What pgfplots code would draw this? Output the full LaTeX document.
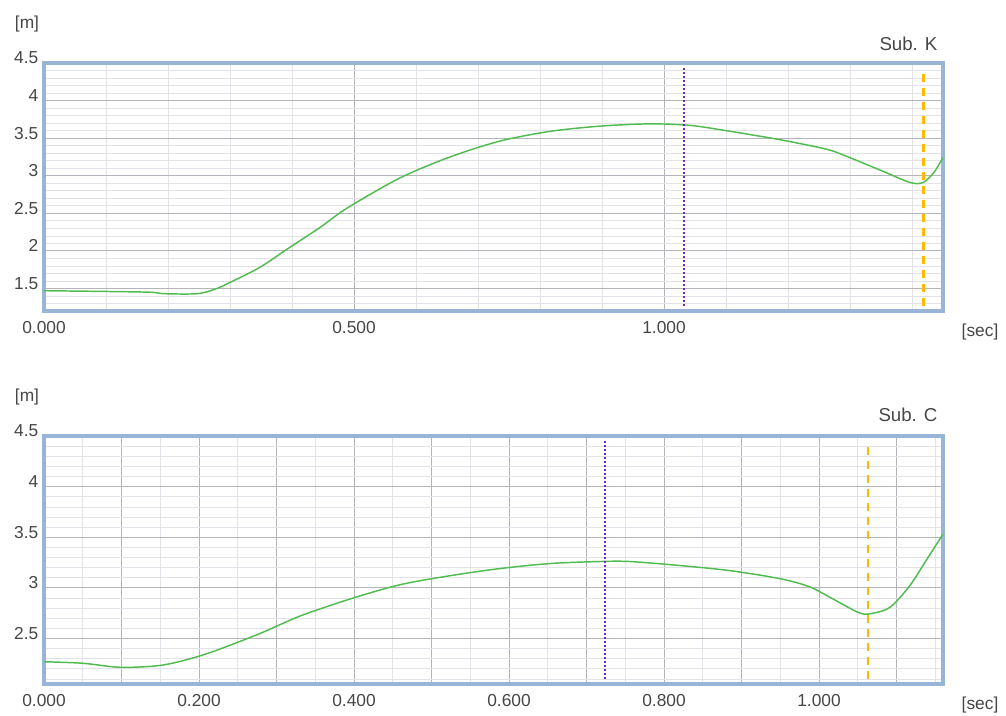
\documentclass[border=0pt]{standalone}
\usepackage{fontspec}
\setmainfont{Liberation Sans}
\usepackage{pgfplots}
\pgfplotsset{compat=1.18}

\definecolor{frameblue}{RGB}{152,180,215}
\definecolor{curvegreen}{RGB}{80,188,80}
\definecolor{markpurple}{RGB}{110,40,190}
\definecolor{markorange}{RGB}{255,184,0}
\definecolor{gridmaj}{RGB}{180,180,186}
\definecolor{gridmin}{RGB}{226,226,232}
\definecolor{labgray}{RGB}{70,70,70}
\newlength\px
\setlength\px{0.75pt}
\newcommand\labfont{\fontsize{13}{15}\selectfont}

\pgfplotsset{wave/.style={
  scale only axis,width=899\px,height=248\px,
  axis line style={frameblue,line width=2.4pt},
  tick style={draw=none},
  grid=both,
  major grid style={gridmaj,line width=0.6pt},
  minor grid style={gridmin,line width=0.5pt},
  ticklabel style={font=\labfont,text=labgray},
  yticklabel style={yshift=5\px,xshift=-1\px},
  xticklabel style={yshift=-6\px},
  every axis plot/.append style={line width=1.1pt},
}}

\begin{document}
\begin{tikzpicture}
\path[use as bounding box] (0,0) rectangle (1006\px,-716\px);

% top panel
\begin{axis}[wave,at={(44\px,-63\px)},anchor=north west,
  xmin=0,xmax=1.45,ymin=1.2,ymax=4.5,
  xtick={0,0.5,1},xticklabels={0.000,0.500,1.000},
  minor xtick={0.1,0.2,0.3,0.4,0.6,0.7,0.8,0.9,1.1,1.2,1.3,1.4},
  ytick={1.5,2,2.5,3,3.5,4,4.5},yticklabels={1.5,2,2.5,3,3.5,4,4.5},
  minor ytick={1.3,1.4,1.6,1.7,1.8,1.9,2.1,2.2,2.3,2.4,2.6,2.7,2.8,2.9,3.1,3.2,3.3,3.4,3.6,3.7,3.8,3.9,4.1,4.2,4.3,4.4}]
\addplot[curvegreen,smooth,tension=0.5] coordinates {
(0,1.47)(0.05,1.465)(0.10,1.46)(0.171,1.45)(0.195,1.43)(0.247,1.43)(0.276,1.49)
(0.300,1.58)(0.348,1.78)(0.397,2.05)(0.445,2.31)(0.489,2.57)(0.574,2.97)
(0.655,3.25)(0.735,3.46)(0.816,3.59)(0.897,3.66)(0.977,3.69)(1.042,3.67)
(1.10,3.60)(1.18,3.49)(1.23,3.41)(1.268,3.34)(1.30,3.24)(1.35,3.07)(1.397,2.91)(1.418,2.91)
(1.435,3.04)(1.445,3.17)(1.45,3.24)};
\addplot[markpurple,line width=1.6pt,dash pattern=on 1.5pt off 1.5pt] coordinates {(1.032,1.27)(1.032,4.43)};
\addplot[markorange,line width=2pt,dash pattern=on 8\px off 6\px] coordinates {(1.418,1.27)(1.418,4.43)};
\end{axis}

% bottom panel
\begin{axis}[wave,at={(44\px,-436\px)},anchor=north west,
  xmin=0,xmax=1.16,ymin=2.05,ymax=4.5,
  xtick={0,0.1,0.2,0.3,0.4,0.5,0.6,0.7,0.8,0.9,1.0,1.1},
  xticklabels={0.000,,0.200,,0.400,,0.600,,0.800,,1.000,},
  minor xtick={0.05,0.15,0.25,0.35,0.45,0.55,0.65,0.75,0.85,0.95,1.05,1.15},
  ytick={2.5,3,3.5,4,4.5},yticklabels={2.5,3,3.5,4,4.5},
  minor ytick={2.1,2.2,2.3,2.4,2.6,2.7,2.8,2.9,3.1,3.2,3.3,3.4,3.6,3.7,3.8,3.9,4.1,4.2,4.3,4.4}]
\addplot[curvegreen,smooth,tension=0.5] coordinates {
(0,2.27)(0.050,2.255)(0.098,2.215)(0.146,2.23)(0.179,2.28)(0.218,2.37)(0.279,2.55)
(0.330,2.72)(0.395,2.89)(0.459,3.03)(0.524,3.12)(0.588,3.19)(0.653,3.24)
(0.717,3.26)(0.756,3.26)(0.821,3.22)(0.885,3.17)(0.950,3.09)(0.988,3.01)
(1.018,2.89)(1.053,2.75)(1.070,2.75)(1.092,2.81)(1.117,3.02)(1.139,3.28)(1.16,3.53)};
\addplot[markpurple,line width=1.6pt,dash pattern=on 1.5pt off 1.5pt] coordinates {(0.724,2.10)(0.724,4.45)};
\addplot[markorange,line width=2pt,dash pattern=on 8\px off 6\px] coordinates {(1.063,2.10)(1.063,4.45)};
\end{axis}

\node[font=\labfont,text=labgray] at (27\px,-24\px) {[m]};
\node[font=\labfont,text=labgray] at (27\px,-397\px) {[m]};
\node[font=\labfont,text=labgray] at (980\px,-332\px) {[sec]};
\node[font=\labfont,text=labgray] at (980\px,-705\px) {[sec]};
\node[font=\fontsize{14}{16}\selectfont,text=labgray,anchor=east] at (942\px,-44\px) {Sub. K};
\node[font=\fontsize{14}{16}\selectfont,text=labgray,anchor=east] at (942\px,-415\px) {Sub. C};
\end{tikzpicture}
\end{document}
